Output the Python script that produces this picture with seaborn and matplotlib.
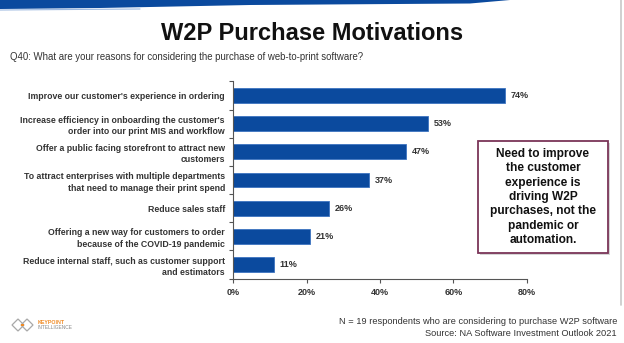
import matplotlib
matplotlib.use("Agg")
import matplotlib.pyplot as plt
import seaborn as sns
import pandas as pd
from matplotlib.patches import Polygon, FancyBboxPatch, Rectangle
from matplotlib.lines import Line2D

categories = [
    "Improve our customer's experience in ordering",
    "Increase efficiency in onboarding the customer's\norder into our print MIS and workflow",
    "Offer a public facing storefront to attract new\ncustomers",
    "To attract enterprises with multiple departments\nthat need to manage their print spend",
    "Reduce sales staff",
    "Offering a new way for customers to order\nbecause of the COVID-19 pandemic",
    "Reduce internal staff, such as customer support\nand estimators",
]
values = [74, 53, 47, 37, 26, 21, 11]
x_ticks = [0, 20, 40, 60, 80]
x_tick_labels = ["0%", "20%", "40%", "60%", "80%"]

title = "W2P Purchase Motivations"
subtitle = "Q40: What are your reasons for considering the purchase of web-to-print software?"
callout = "Need to improve\nthe customer\nexperience is\ndriving W2P\npurchases, not the\npandemic or\nautomation."
footer1 = "N = 19 respondents who are considering to purchase W2P software"
footer2 = "Source: NA Software Investment Outlook 2021"

sns.set_theme(style="white")
plt.rcParams['font.family'] = ['Liberation Sans', 'DejaVu Sans']

W, H = 624, 343
fig = plt.figure(figsize=(W / 100, H / 100), dpi=100)
fig.patch.set_facecolor("white")

def fx(px):
    return px / W

def fy(py):
    return 1 - py / H

# top blue band
band = Polygon([(fx(0), fy(0)), (fx(510), fy(0)), (fx(470), fy(3.5)),
                (fx(250), fy(5)), (fx(100), fy(8)), (fx(0), fy(9))],
               closed=True, transform=fig.transFigure, facecolor="#0B4A9E",
               edgecolor="none")
fig.patches.append(band)
fig.lines.append(Line2D([fx(0), fx(140)], [fy(10), fy(9)], transform=fig.transFigure,
                        color="#9DB9E0", lw=0.8))
# right edge shadow line
fig.lines.append(Line2D([fx(621), fx(621)], [fy(0), fy(305)], transform=fig.transFigure,
                        color="#C8C8C8", lw=1.2))

ax_left, ax_right, ax_top, ax_bot = 233.3, 526.7, 81.4, 278.6
ax = fig.add_axes([fx(ax_left), fy(ax_bot), fx(ax_right - ax_left), (ax_bot - ax_top) / H])

df = pd.DataFrame({"category": categories, "value": values})
sns.barplot(data=df, x="value", y="category", orient="h", color="#0B4A9E",
            saturation=1, width=0.53, edgecolor="#3D74C0", linewidth=0.6, ax=ax)

ax.set_xlim(0, 80)
ax.set_ylim(len(categories) - 0.5, -0.5)
ax.set_xticks(x_ticks)
ax.set_xticklabels(x_tick_labels, fontsize=6.5, fontweight="bold", color="#333333")
ax.set_xlabel("")
ax.set_ylabel("")
ax.set_yticks(range(len(categories)))
ax.set_yticklabels(categories, fontsize=6.35, fontweight="bold", color="#333333",
                   linespacing=1.38)
ax.tick_params(axis="y", length=0, pad=6)
ax.tick_params(axis="x", length=3, width=0.8, color="#555555", pad=4, direction="out",
               bottom=True)
ax.set_yticks([i + 0.5 for i in range(-1, len(categories))], minor=True)
ax.tick_params(axis="y", which="minor", length=3, width=0.8, color="#555555", left=True)
for side in ["top", "right"]:
    ax.spines[side].set_visible(False)
for side in ["left", "bottom"]:
    ax.spines[side].set_color("#555555")
    ax.spines[side].set_linewidth(0.8)
ax.grid(False)

for i, v in enumerate(values):
    ax.text(v + 1.6, i, f"{v}%", va="center", ha="left", fontsize=6.5,
            fontweight="bold", color="#333333")

# title and subtitle
fig.text(fx(312), fy(34), title, ha="center", va="center", fontsize=17,
         fontweight="bold", color="#111111")
fig.text(fx(10), fy(57), subtitle, ha="left", va="center", fontsize=6.9,
         color="#333333")

# callout box with shadow
bx0, by0, bx1, by1 = 478, 141, 608, 253
shadow = FancyBboxPatch((fx(bx0 + 2), fy(by1 + 2)), fx(bx1 - bx0), (by1 - by0) / H,
                        boxstyle="square,pad=0", transform=fig.transFigure,
                        facecolor="#BBBBBB", edgecolor="none", alpha=0.6)
fig.patches.append(shadow)
box = FancyBboxPatch((fx(bx0), fy(by1)), fx(bx1 - bx0), (by1 - by0) / H,
                     boxstyle="square,pad=0", transform=fig.transFigure,
                     facecolor="white", edgecolor="#7B3558", linewidth=1.3)
fig.patches.append(box)
fig.text(fx((bx0 + bx1) / 2), fy((by0 + by1) / 2), callout, ha="center", va="center",
         fontsize=8.6, fontweight="bold", color="#111111", linespacing=1.26)

# footer
fig.text(fx(617), fy(322), footer1, ha="right", va="center", fontsize=6.7, color="#333333")
fig.text(fx(617), fy(334), footer2, ha="right", va="center", fontsize=6.7, color="#333333")

# logo
for cxp in (18, 27):
    d = Polygon([(fx(cxp - 6), fy(325)), (fx(cxp), fy(319)), (fx(cxp + 6), fy(325)),
                 (fx(cxp), fy(331))], closed=True, transform=fig.transFigure,
                facecolor="none", edgecolor="#A8A8A8", linewidth=0.9)
    fig.patches.append(d)
dot = Rectangle((fx(21.3), fy(326.3)), fx(2.4), 2.4 / H, transform=fig.transFigure,
                facecolor="#F08A24", edgecolor="none")
fig.patches.append(dot)
fig.text(fx(38), fy(322.5), "KEYPOINT", ha="left", va="center", fontsize=3.8,
         fontweight="bold", color="#F08A24")
fig.text(fx(38), fy(327.5), "INTELLIGENCE", ha="left", va="center", fontsize=3.5,
         color="#8A8A8A")

fig.savefig("out.png", dpi=100, facecolor="white")
